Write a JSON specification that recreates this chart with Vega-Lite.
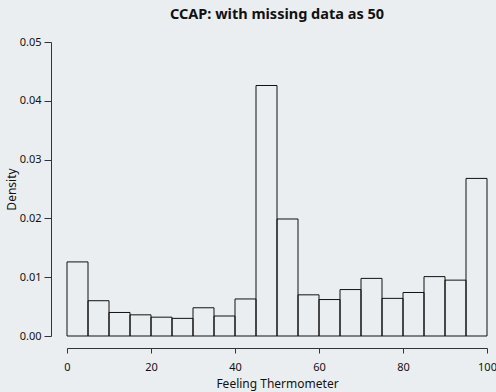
{
  "$schema": "https://vega.github.io/schema/vega-lite/v6.json",
  "autosize": "none",
  "width": 420,
  "height": 294,
  "padding": {"left": 67, "top": 42, "right": 9, "bottom": 56},
  "background": "#ebeef0",
  "title": {"text": "CCAP: with missing data as 50", "fontSize": 14.5, "font": "Noto Sans", "fontWeight": "bold", "color": "#111111", "offset": 14},
  "config": {"view": {"stroke": null}, "font": "Noto Sans"},
  "data": {"values": [
    {"bin_start": 0, "bin_end": 5, "density": 0.0126},
    {"bin_start": 5, "bin_end": 10, "density": 0.0060},
    {"bin_start": 10, "bin_end": 15, "density": 0.0040},
    {"bin_start": 15, "bin_end": 20, "density": 0.0036},
    {"bin_start": 20, "bin_end": 25, "density": 0.0032},
    {"bin_start": 25, "bin_end": 30, "density": 0.0030},
    {"bin_start": 30, "bin_end": 35, "density": 0.0048},
    {"bin_start": 35, "bin_end": 40, "density": 0.0034},
    {"bin_start": 40, "bin_end": 45, "density": 0.0063},
    {"bin_start": 45, "bin_end": 50, "density": 0.0426},
    {"bin_start": 50, "bin_end": 55, "density": 0.0199},
    {"bin_start": 55, "bin_end": 60, "density": 0.0070},
    {"bin_start": 60, "bin_end": 65, "density": 0.0062},
    {"bin_start": 65, "bin_end": 70, "density": 0.0079},
    {"bin_start": 70, "bin_end": 75, "density": 0.0098},
    {"bin_start": 75, "bin_end": 80, "density": 0.0064},
    {"bin_start": 80, "bin_end": 85, "density": 0.0074},
    {"bin_start": 85, "bin_end": 90, "density": 0.0101},
    {"bin_start": 90, "bin_end": 95, "density": 0.0095},
    {"bin_start": 95, "bin_end": 100, "density": 0.0268}
  ]},
  "mark": {"type": "rect", "fill": "transparent", "stroke": "#111111", "strokeWidth": 1},
  "encoding": {
    "x": {"field": "bin_start", "type": "quantitative",
      "scale": {"domain": [0, 100], "nice": false, "zero": false, "padding": 0},
      "axis": {"values": [0, 20, 40, 60, 80, 100], "grid": false, "offset": 12, "tickSize": 5, "labelPadding": 8, "labelFontSize": 11, "labelColor": "#111111", "domainColor": "#333333", "tickColor": "#333333", "labelFlush": false, "title": "Feeling Thermometer", "titleFontSize": 12, "titleFontWeight": "normal", "titleColor": "#111111", "titlePadding": 6}},
    "x2": {"field": "bin_end"},
    "y": {"field": "density", "type": "quantitative",
      "scale": {"domain": [0, 0.05], "nice": false, "padding": 0},
      "axis": {"values": [0, 0.01, 0.02, 0.03, 0.04, 0.05], "format": ".2f", "grid": false, "offset": 16, "tickSize": 7, "labelPadding": 3, "labelFontSize": 11, "labelColor": "#111111", "domainColor": "#333333", "tickColor": "#333333", "title": "Density", "titleFontSize": 12, "titleFontWeight": "normal", "titleColor": "#111111", "titlePadding": 1}},
    "y2": {"datum": 0}
  }
}
